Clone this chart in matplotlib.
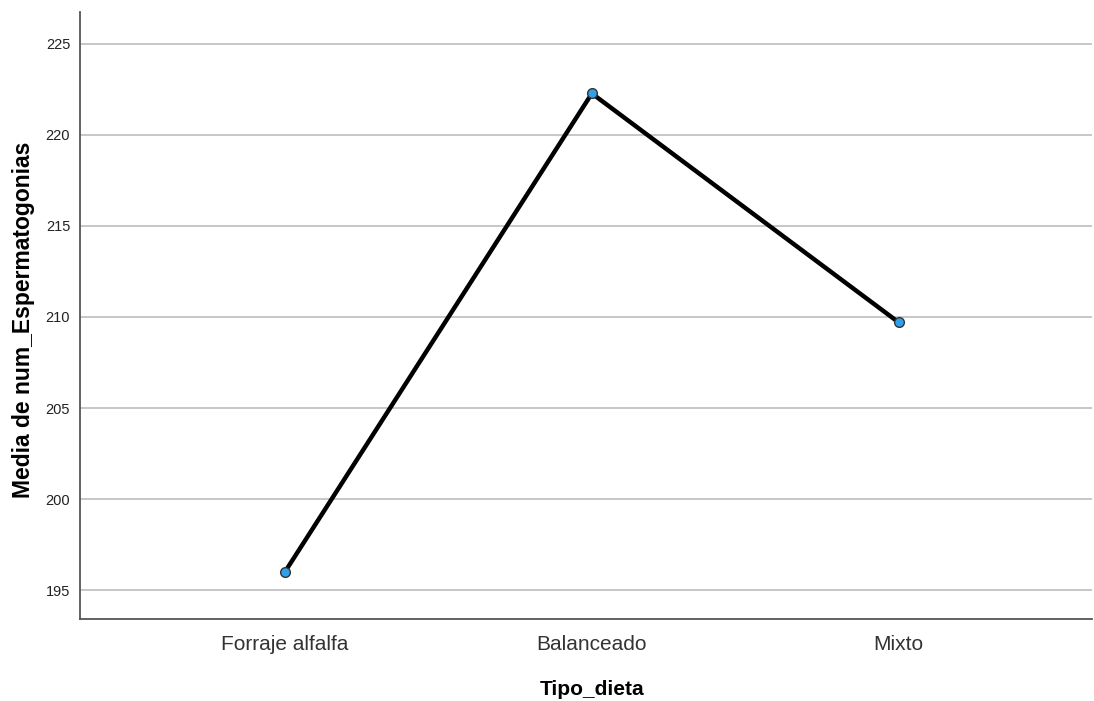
import matplotlib
matplotlib.use("Agg")
import matplotlib.pyplot as plt

categories = ["Forraje alfalfa", "Balanceado", "Mixto"]
means = [196.0, 222.28, 209.70]
yticks = [195, 200, 205, 210, 215, 220, 225]

plt.rcParams['font.family'] = ['Liberation Sans', 'DejaVu Sans']

fig = plt.figure(figsize=(10.94, 7.01), dpi=100)
ax = fig.add_axes([0.0731, 0.117, 0.9249, 0.866])

x = list(range(len(categories)))
ax.plot(x, means, color='black', lw=3.2, zorder=3, solid_capstyle='round')
ax.plot(x, means, 'o', ms=7, mfc='#2F9FE8', mec='#333333', mew=1.0, zorder=4)

ax.set_xlim(-0.668, 2.629)
ax.set_ylim(193.41, 226.76)
ax.set_yticks(yticks)
ax.set_xticks(x)
ax.set_xticklabels(categories, fontsize=15, color='#333333')
ax.tick_params(axis='y', labelsize=10.5, length=0, pad=7, labelcolor='#222222')
ax.tick_params(axis='x', length=0, pad=11.5)
ax.yaxis.grid(True, color='#BDBDBD', lw=1.2)
ax.set_axisbelow(True)

for s in ['top', 'right']:
    ax.spines[s].set_visible(False)
for s in ['left', 'bottom']:
    ax.spines[s].set_color('#555555')
    ax.spines[s].set_linewidth(1.3)

ax.set_xlabel('Tipo_dieta', fontsize=15, fontweight='bold', labelpad=19)
ax.set_ylabel('Media de num_Espermatogonias', fontsize=16.5, fontweight='bold', labelpad=8)
ax.xaxis.label.set_x(0.506)
ax.yaxis.label.set_y(0.493)

fig.savefig('out.png', dpi=100)
